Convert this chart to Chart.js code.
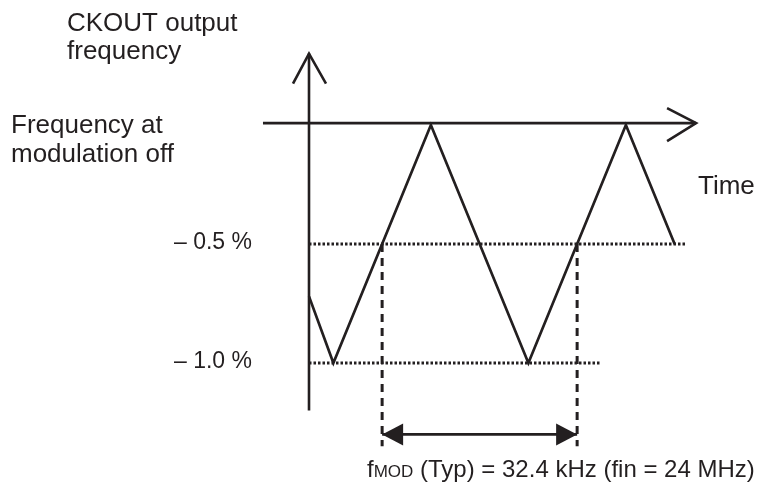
<!DOCTYPE html>
<html>
<head>
<meta charset="utf-8">
<script src="https://cdn.jsdelivr.net/npm/chart.js@4.4.1/dist/chart.umd.min.js"></script>
<style>
  html, body { margin: 0; padding: 0; background: #ffffff; }
  #wrap { position: relative; width: 761px; height: 494px; }
</style>
</head>
<body>
<div id="wrap"><canvas id="ssChart"></canvas></div>
<script>
// Dados do diagrama (tempo em períodos de modulação, frequência em %)
const timePts = [0, 0.125, 0.625, 1.125, 1.625, 1.875];
const freqPts = [-0.72, -1.0, 0, -1.0, 0, -0.5];
const levelValues = [-0.5, -1.0];
const levelLabels = ['\u2013 0.5 %', '\u2013 1.0 %'];
const levelEnds = [1.93, 1.49];
const periodMarks = [0.375, 1.375];
const axisTime = [-0.236, 1.985];
const axisFreq = [-1.2, 0.3];
const markBottom = -1.35;
const spanLevel = -1.30;

const INK = '#231f20';
const FONT = '"Liberation Sans", Arial, sans-serif';

function pts(xs, ys) {
    return xs.map((x, i) => ({ x: x, y: ys[i] }));
}

const datasets = [];

// eixos
datasets.push({ data: pts(axisTime, [0.008, 0.008]), borderColor: INK, borderWidth: 2.6 });
datasets.push({ data: pts([0, 0], axisFreq), borderColor: INK, borderWidth: 2.6 });

// níveis pontilhados
levelValues.forEach((v, i) => {
    datasets.push({ data: pts([0, levelEnds[i]], [v, v]), borderColor: INK, borderWidth: 3, borderDash: [2.5, 2] });
});

// linhas tracejadas do período
periodMarks.forEach(t => {
    datasets.push({ data: pts([t, t], [levelValues[0], markBottom]), borderColor: INK, borderWidth: 3, borderDash: [8, 6] });
});

// seta do período
datasets.push({ data: pts(periodMarks, [spanLevel, spanLevel]), borderColor: INK, borderWidth: 2.8 });

// onda triangular
datasets.push({ data: pts(timePts, freqPts), borderColor: INK, borderWidth: 2.7, borderJoinStyle: 'miter' });

const labelsPlugin = {
    id: 'labels',
    afterDatasetsDraw(chart) {
        const ctx = chart.ctx;
        const xs = chart.scales.x;
        const ys = chart.scales.y;
        ctx.save();
        ctx.strokeStyle = INK;
        ctx.fillStyle = INK;
        ctx.lineWidth = 2.6;

        // ponta do eixo vertical
        const vx = xs.getPixelForValue(0);
        const vy = ys.getPixelForValue(axisFreq[1]);
        ctx.beginPath();
        ctx.moveTo(vx - 16, vy + 30);
        ctx.lineTo(vx, vy);
        ctx.lineTo(vx + 17, vy + 30);
        ctx.stroke();

        // ponta do eixo horizontal
        const hx = xs.getPixelForValue(axisTime[1]);
        const hy = ys.getPixelForValue(0.008);
        ctx.beginPath();
        ctx.moveTo(hx - 29, hy - 15);
        ctx.lineTo(hx, hy);
        ctx.lineTo(hx - 29, hy + 18);
        ctx.stroke();

        // setas cheias do período
        const ax1 = xs.getPixelForValue(periodMarks[0]);
        const ax2 = xs.getPixelForValue(periodMarks[1]);
        const ay = ys.getPixelForValue(spanLevel);
        ctx.beginPath();
        ctx.moveTo(ax1, ay);
        ctx.lineTo(ax1 + 21, ay - 11);
        ctx.lineTo(ax1 + 21, ay + 11);
        ctx.closePath();
        ctx.fill();
        ctx.beginPath();
        ctx.moveTo(ax2, ay);
        ctx.lineTo(ax2 - 21, ay - 11);
        ctx.lineTo(ax2 - 21, ay + 11);
        ctx.closePath();
        ctx.fill();

        // textos
        ctx.textBaseline = 'alphabetic';
        ctx.textAlign = 'left';
        ctx.font = '26px ' + FONT;
        ctx.fillText('CKOUT output', 67, 31);
        ctx.fillText('frequency', 67, 59);
        ctx.fillText('Frequency at', 11, 133);
        ctx.fillText('modulation off', 11, 162);
        ctx.fillText('Time', 698, 194);

        ctx.font = '23px ' + FONT;
        ctx.textAlign = 'right';
        levelValues.forEach((v, i) => {
            ctx.fillText(levelLabels[i], 252, ys.getPixelForValue(v) + 5);
        });

        ctx.textAlign = 'left';
        let x = 367;
        const by = 477;
        ctx.font = '24px ' + FONT;
        ctx.fillText('f', x, by);
        x += ctx.measureText('f').width;
        ctx.font = '17px ' + FONT;
        ctx.fillText('MOD', x, by);
        x += ctx.measureText('MOD').width;
        ctx.font = '24px ' + FONT;
        ctx.fillText(' (Typ) = 32.4 kHz (fin = 24 MHz)', x, by);
        ctx.restore();
    }
};

new Chart(document.getElementById('ssChart').getContext('2d'), {
    type: 'line',
    data: { datasets: datasets },
    options: {
        responsive: true,
        maintainAspectRatio: false,
        animation: false,
        layout: { padding: 0 },
        elements: {
            point: { radius: 0, hoverRadius: 0 },
            line: { tension: 0, fill: false, borderCapStyle: 'butt' }
        },
        plugins: { legend: { display: false }, tooltip: { enabled: false } },
        scales: {
            x: { type: 'linear', display: false, min: -1.5846, max: 2.3179 },
            y: { type: 'linear', display: false, min: -1.5504, max: 0.5252 }
        }
    },
    plugins: [labelsPlugin]
});
</script>
</body>
</html>
